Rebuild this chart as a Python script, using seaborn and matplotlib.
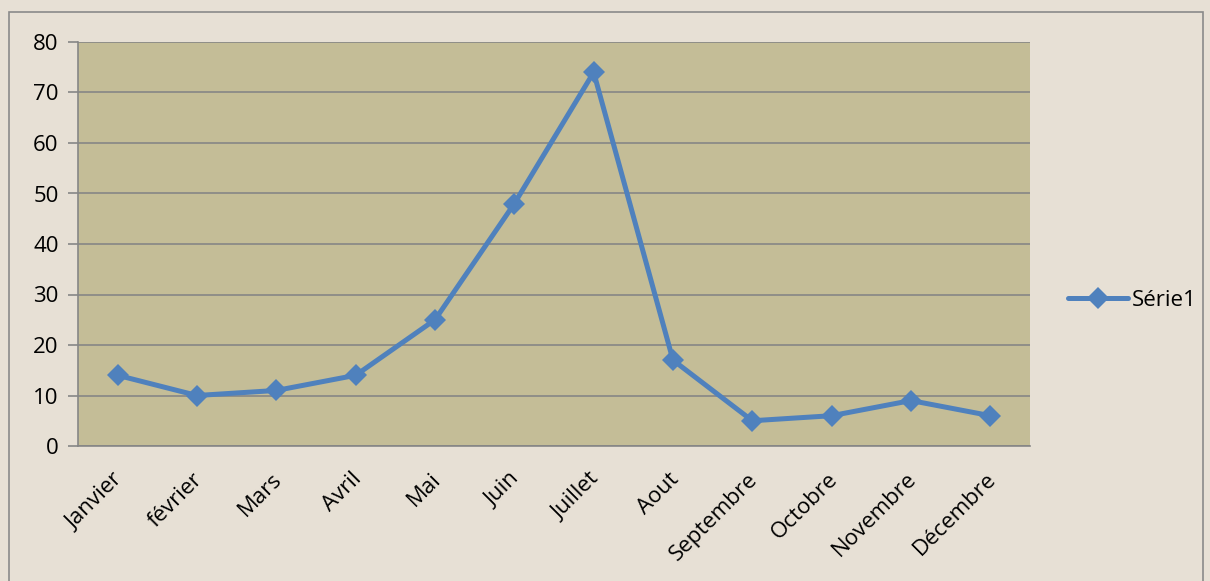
import numpy as np
import pandas as pd
import matplotlib
matplotlib.use("Agg")
import matplotlib.pyplot as plt
import matplotlib.transforms as mtransforms
import seaborn as sns
from matplotlib.patches import Rectangle

# Data
mois = ['Janvier', 'février', 'Mars', 'Avril', 'Mai', 'Juin', 'Juillet',
        'Aout', 'Septembre', 'Octobre', 'Novembre', 'Décembre']
valeurs = [14, 10, 11, 14, 25, 48, 74, 17, 5, 6, 9, 6]
serie = 'Série1'

sns.set_style("white")
plt.rcParams['font.family'] = ['Open Sans', 'DejaVu Sans']
plt.rcParams['text.color'] = 'black'

df = pd.DataFrame({'mois': mois, 'valeur': valeurs, 'serie': serie})
df['pos'] = np.arange(len(mois))

fig = plt.figure(figsize=(12.1, 5.81), dpi=100)
fig.patch.set_facecolor('#E7E0D5')
ax = fig.add_axes([78 / 1210, 1 - 446 / 581, (1030 - 78) / 1210, (446 - 42) / 581])
ax.set_facecolor('#C4BD97')

# outer chart border
fig.patches.append(Rectangle((9 / 1210, -0.01), (1203 - 9) / 1210, 1 - 12 / 581 + 0.01,
                             transform=fig.transFigure, fill=False,
                             edgecolor='#8A8A8A', linewidth=1.2))

sns.lineplot(data=df, x='pos', y='valeur', hue='serie', palette=['#4F81BD'],
             marker='D', markersize=11, linewidth=3.6, markeredgewidth=0,
             sort=False, ax=ax)

ax.set_xlim(-0.5, len(mois) - 0.5)
ax.set_ylim(0, 80)
ax.set_yticks(range(0, 81, 10))
ax.yaxis.grid(True, color='#868686', linewidth=1.2)
ax.set_axisbelow(True)

ax.set_xticks(np.arange(len(mois)))
ax.set_xticklabels(mois, rotation=45, ha='right', rotation_mode='anchor', fontsize=16)
ax.set_xticks(np.arange(-0.5, len(mois)), minor=True)
ax.tick_params(axis='x', which='major', length=0, pad=7, labelcolor='black')
ax.tick_params(axis='x', which='minor', length=7, width=1.2, color='#868686', direction='out')
ax.tick_params(axis='y', length=7, width=1.2, color='#868686', labelsize=16, pad=7,
               direction='out', left=True, labelcolor='black')
ax.set_xlabel('')
ax.set_ylabel('')

# nudge month labels down/left like the original
offset = mtransforms.ScaledTranslation(-5 / 100, -13 / 100, fig.dpi_scale_trans)
for lab in ax.get_xticklabels():
    lab.set_transform(lab.get_transform() + offset)

for s in ['top', 'right']:
    ax.spines[s].set_visible(False)
for s in ['left', 'bottom']:
    ax.spines[s].set_color('#868686')
    ax.spines[s].set_linewidth(1.2)

handles, labels = ax.get_legend_handles_labels()
ax.legend(handles, labels, loc='center left', bbox_to_anchor=(1068 / 1210, 1 - 300 / 581),
          bbox_transform=fig.transFigure, frameon=False, fontsize=16,
          handlelength=2.7, handletextpad=0.15, borderaxespad=0, borderpad=0)

fig.savefig('out.png', dpi=100, facecolor=fig.get_facecolor())
